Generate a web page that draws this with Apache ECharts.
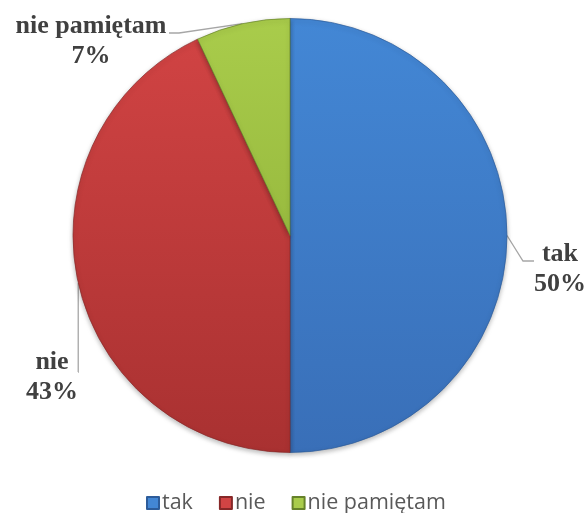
<!DOCTYPE html>
<html>
<head>
<meta charset="utf-8">
<script src="https://cdn.jsdelivr.net/npm/echarts@6/dist/echarts.min.js"></script>
<style>
  html, body { margin: 0; padding: 0; background: #ffffff; }
  #chart { width: 587px; height: 513px; }
</style>
</head>
<body>
<div id="chart"></div>
<script>
// Survey answers and their shares (percent)
const categories = ['tak', 'nie', 'nie pamiętam'];
const values = [50, 43, 7];

// Fill colours per answer: [top, bottom] of a soft vertical gradient
const fills = [
  ['#4387d5', '#396fb8'],
  ['#d24444', '#a93131'],
  ['#a9cc4b', '#88a933']
];
const edges = ['#2d5c9a', '#872828', '#66822a'];

// Label block placement: anchor point, alignment, line box width,
// padding (shifts the leader-line attachment) and leader length near the text
const labelSpots = [
  { x: 535, y: 261, align: 'left',  w: 50,  pad: [17, 0, 0, 0],   len2: 11 },
  { x: 77,  y: 372, align: 'right', w: 50,  pad: [11, 0, 0, 130], len2: 1 },
  { x: 169, y: 33,  align: 'right', w: 156, pad: [17, 0, 0, 0],   len2: 10 }
];

const labelFont = {
  fontFamily: 'Liberation Serif, Times New Roman, serif',
  fontWeight: 'bold',
  fontSize: 26,
  lineHeight: 30,
  color: '#404040'
};

const chart = echarts.init(document.getElementById('chart'), null, { renderer: 'canvas' });

const data = categories.map((name, i) => {
  const s = labelSpots[i];
  return {
    name,
    value: values[i],
    itemStyle: {
      color: new echarts.graphic.LinearGradient(0, 19, 0, 452, [
        { offset: 0, color: fills[i][0] },
        { offset: 1, color: fills[i][1] }
      ], true),
      borderColor: edges[i],
      borderWidth: 0.7,
      shadowBlur: 5,
      shadowColor: 'rgba(0,0,0,0.28)',
      shadowOffsetY: 2
    },
    label: {
      width: s.w,
      padding: s.pad,
      rich: { t: Object.assign({ width: s.w, align: 'center' }, labelFont) }
    },
    labelLine: { length2: s.len2 }
  };
});

chart.setOption({
  animation: false,
  legend: {
    top: 487,
    left: 141,
    itemWidth: 12,
    itemHeight: 12,
    itemGap: 26,
    icon: 'rect',
    textStyle: {
      fontFamily: 'Open Sans, sans-serif',
      fontSize: 21.5,
      color: '#595959',
      padding: [0, 0, 0, -2]
    },
    data: categories
  },
  series: [{
    type: 'pie',
    center: [290, 235.5],
    radius: [0, 217],
    startAngle: 90,
    clockwise: true,
    data,
    label: Object.assign({
      show: true,
      overflow: 'none',
      formatter: p => '{t|' + p.name + '}\n{t|' + p.value + '%}'
    }, labelFont),
    labelLine: {
      show: true,
      length: 14,
      lineStyle: { color: '#a6a6a6', width: 1.3 }
    },
    labelLayout: params => {
      const s = labelSpots[params.dataIndex];
      return { x: s.x, y: s.y, align: s.align, verticalAlign: 'middle' };
    }
  }]
});
</script>
</body>
</html>
